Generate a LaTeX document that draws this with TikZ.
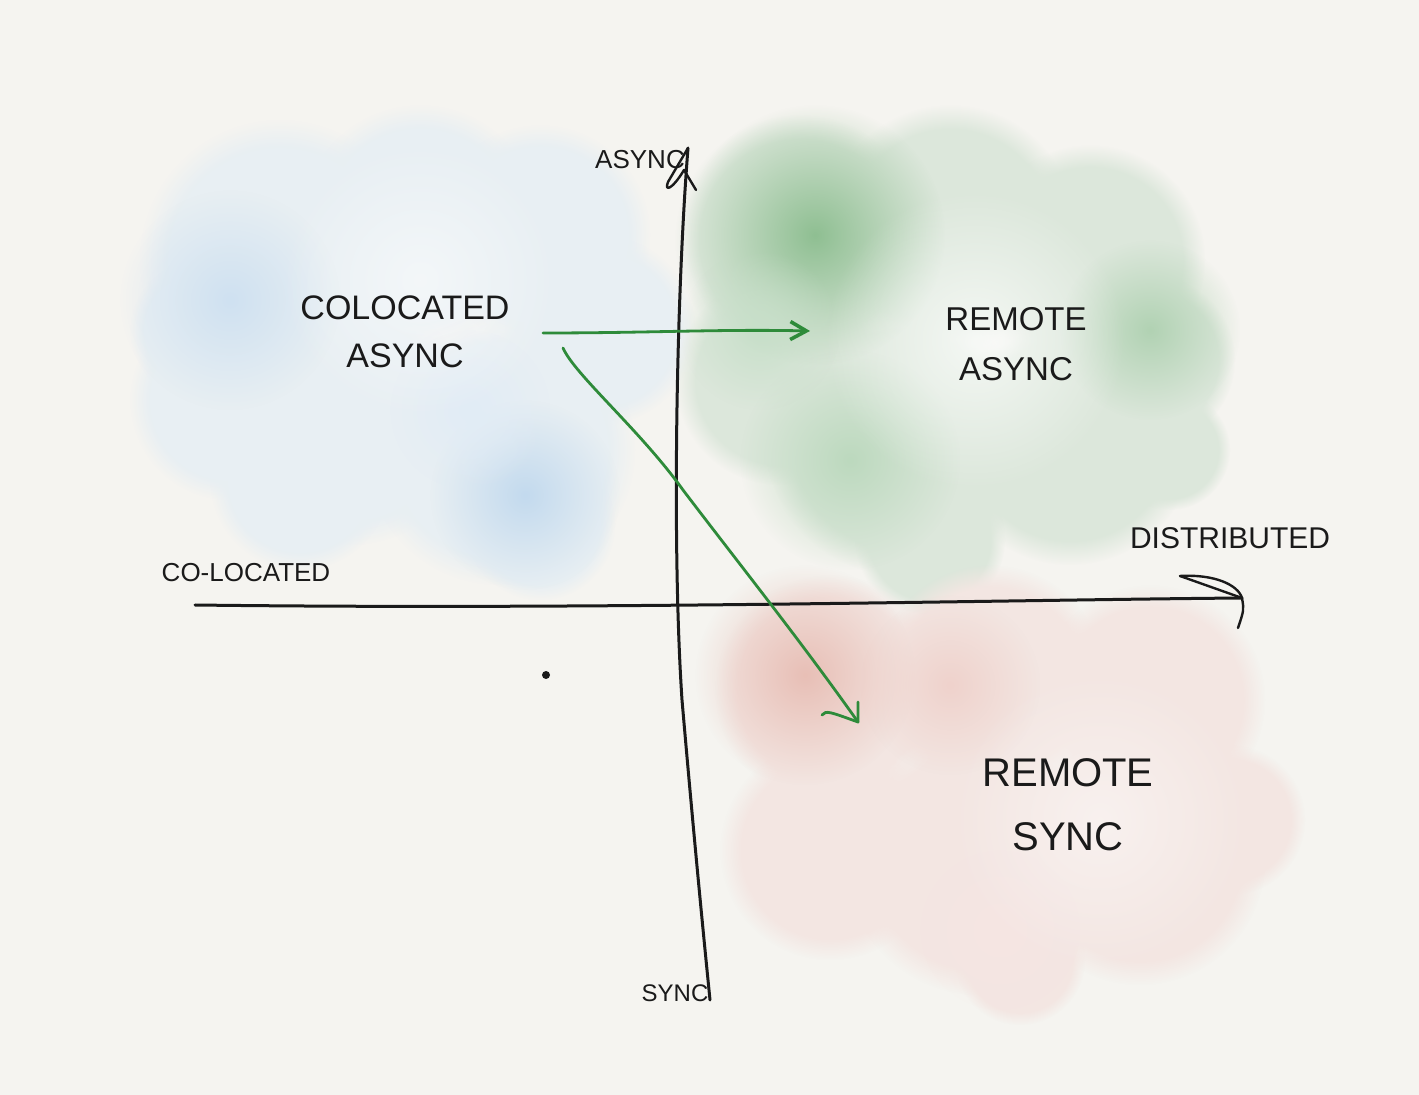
\documentclass[tikz,border=0pt]{standalone}
\usepackage{fontspec}
\setmainfont{Liberation Sans}
\usetikzlibrary{fadings,arrows.meta}
\definecolor{bg}{HTML}{F5F4F0}
\definecolor{ink}{HTML}{1A1A1A}
\definecolor{pen}{HTML}{2E8B3A}
\definecolor{blueA}{HTML}{E8EFF3}
\definecolor{blueB}{HTML}{C3DAEE}
\definecolor{greenA}{HTML}{DCE7DB}
\definecolor{greenB}{HTML}{8FBF92}
\definecolor{redA}{HTML}{F3E6E2}
\definecolor{redB}{HTML}{E8BFB6}
\tikzfading[name=softspot, inner color=transparent!0, outer color=transparent!100]
\tikzset{
  puff/.style={fill=#1, path fading=circle with fuzzy edge 20 percent},
  spot/.style={fill=#1, path fading=softspot},
  axis/.style={draw=ink, line width=1.5pt, line cap=round, line join=round},
  greenpen/.style={draw=pen, line width=1.4pt, line cap=round, line join=round},
  label/.style={text=ink, inner sep=0pt, align=center},
}
\begin{document}
\begin{tikzpicture}[x=0.5pt,y=-0.5pt]
\fill[bg] (0,0) rectangle (1419,1095);
\useasboundingbox (0,0) rectangle (1419,1095);
% blue cloud
\foreach \x/\y/\r in {280/260/140,420/225/120,540/235/110,600/330/95,230/400/100,350/420/125,500/450/135,540/525/75,300/480/90,200/330/70}
  \fill[puff=blueA] (\x,\y) circle (\r);
\fill[spot=blueB!80] (230,300) circle (110);
\fill[spot=blueB] (525,495) circle (95);
\fill[spot=blueB!50] (470,410) circle (80);
\fill[spot=white, opacity=0.5] (420,280) circle (140);
% green cloud
\foreach \x/\y/\r in {800/240/125,950/230/125,1090/260/115,1150/360/85,780/380/105,900/440/135,1070/440/125,930/540/75,1170/450/60}
  \fill[puff=greenA] (\x,\y) circle (\r);
\fill[spot=greenB] (815,235) circle (130);
\fill[spot=greenB!70] (1150,330) circle (90);
\fill[spot=greenB!60] (850,460) circle (110);
\fill[spot=greenB!50] (760,330) circle (80);
\fill[spot=white, opacity=0.7] (975,340) circle (150);
% red cloud
\foreach \x/\y/\r in {830/690/115,990/680/115,1150/700/115,1230/820/75,830/850/110,980/860/135,1140/860/125,1020/960/65}
  \fill[puff=redA] (\x,\y) circle (\r);
\fill[spot=redB] (805,675) circle (110);
\fill[spot=redB!70] (950,685) circle (90);
\fill[spot=redB!40] (1000,930) circle (80);
\fill[spot=white, opacity=0.45] (1100,820) circle (150);
% axes
\coordinate (hl) at (195,605);
\coordinate (hr) at (1242,598);
\coordinate (vt) at (688,148);
\coordinate (vb) at (710,1000);
\draw[axis] (hl) .. controls (600,610) and (1000,600) .. (hr);
\draw[axis, line width=1.2pt] (1180,576) -- (hr);
\draw[axis, line width=1.2pt] (1180,576) .. controls (1215,574) and (1238,585) .. (hr) .. controls (1244,610) .. (1238,628);
\draw[axis] (vt) .. controls (676,300) and (672,550) .. (682,700) .. controls (695,850) and (705,950) .. (vb);
\draw[axis, line width=1.2pt] (vt) -- (668,182) .. controls (664,192) and (672,190) .. (684,170) -- (696,190);
% dot
\fill[ink] (546,675) circle (4);
% labels
\node[label, font=\fontsize{13}{15}\selectfont] (async) at (640,160) {ASYNC};
\node[label, font=\fontsize{12}{14}\selectfont] (sync) at (675,993) {SYNC};
\node[label, font=\fontsize{13}{15}\selectfont] (coloc) at (246,573) {CO-LOCATED};
\node[label, font=\fontsize{15}{17}\selectfont] (dist) at (1230,538) {DISTRIBUTED};
\node[label, font=\fontsize{17}{24}\selectfont] (ca) at (405,332) {COLOCATED\\ASYNC};
\node[label, font=\fontsize{16.5}{25}\selectfont] (ra) at (1016,344) {REMOTE\\ASYNC};
\node[label, font=\fontsize{20}{32}\selectfont] (rs) at (1068,805) {REMOTE\\SYNC};
% green connectors
\coordinate (a1s) at (543,333);
\coordinate (a1e) at (810,331);
\coordinate (a2s) at (563,348);
\coordinate (a2e) at (858,722);
\draw[greenpen, -{Straight Barb[length=8pt,width=9pt,line width=1.8pt]}] (a1s) .. controls (650,333) and (720,329) .. (a1e);
\draw[greenpen] (a2s) .. controls (575,375) and (640,430) .. (683,490) .. controls (740,565) and (800,640) .. (a2e);
\draw[greenpen] (822,715) .. controls (826,710) and (830,712) .. (a2e) -- (858,702);
\end{tikzpicture}
\end{document}
